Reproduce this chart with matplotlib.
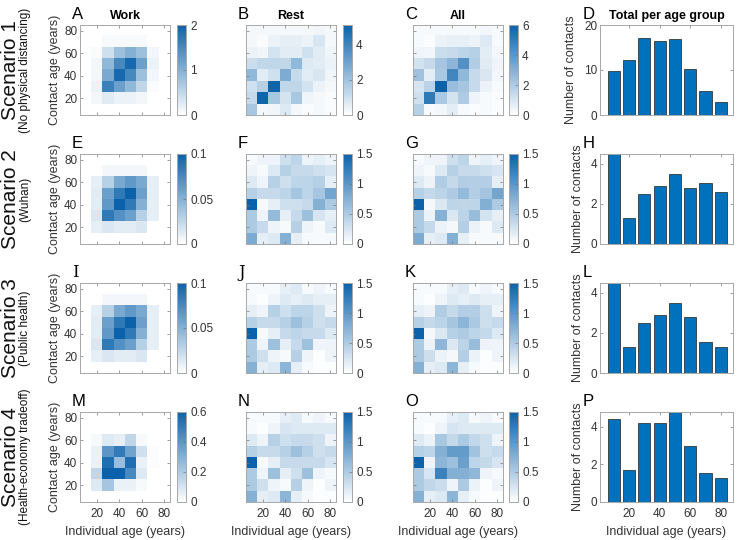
import numpy as np
import matplotlib
matplotlib.use('Agg')
import matplotlib.pyplot as plt
from matplotlib.colors import LinearSegmentedColormap

plt.rcParams['font.family'] = ['Liberation Sans', 'DejaVu Sans']

# age groups (centres of 10-year bins)
ages = [10, 20, 30, 40, 50, 60, 70, 80]

# contact matrices, rows listed from contact age 80 (top) down to 10 (bottom)
work_s1 = [[0, 0, 0, 0, 0, 0, 0, 0],
           [0, 0, 0.07, 0.07, 0.07, 0.07, 0, 0],
           [0, 0.05, 0.4, 0.8, 1.0, 0.8, 0.1, 0],
           [0, 0.1, 0.9, 1.5, 1.9, 1.2, 0.15, 0],
           [0, 0.1, 1.1, 1.9, 1.5, 0.8, 0.1, 0],
           [0, 0.15, 1.6, 1.2, 0.9, 0.5, 0.05, 0],
           [0, 0.1, 0.25, 0.15, 0.15, 0.1, 0, 0],
           [0, 0, 0, 0, 0, 0, 0, 0]]
rest_s1 = [[0.2, 0.2, 0.2, 0.2, 0.2, 0.2, 0.3, 0.2],
           [0.2, 0.1, 0.4, 0.5, 0.5, 0.4, 0.8, 0.2],
           [0.4, 0.3, 0.9, 0.6, 0.6, 1.0, 0.6, 0.3],
           [1.1, 1.3, 1.3, 1.3, 2.3, 0.7, 0.6, 0.4],
           [2.3, 0.6, 1.0, 2.7, 1.2, 0.6, 0.8, 0.3],
           [1.0, 1.5, 5.0, 1.3, 1.3, 0.9, 0.4, 0.2],
           [1.2, 5.0, 1.8, 0.9, 1.8, 0.3, 0.2, 0.1],
           [1.8, 0.2, 0.3, 0.7, 0.2, 0.1, 0.2, 0.1]]
all_s1 = [[0.2, 0.2, 0.2, 0.2, 0.2, 0.2, 0.3, 0.2],
          [0.2, 0.1, 0.45, 0.55, 0.55, 0.45, 0.8, 0.2],
          [0.4, 0.35, 1.3, 1.4, 1.6, 1.8, 0.7, 0.3],
          [1.1, 1.4, 2.2, 2.8, 4.2, 1.9, 0.75, 0.4],
          [2.3, 0.7, 2.1, 4.6, 2.7, 1.4, 0.9, 0.3],
          [1.0, 1.65, 6.0, 2.5, 2.2, 1.4, 0.45, 0.2],
          [1.2, 5.1, 2.05, 1.05, 1.95, 0.4, 0.2, 0.1],
          [1.8, 0.2, 0.3, 0.7, 0.2, 0.1, 0.2, 0.1]]

work_s2 = [[0, 0, 0, 0, 0, 0, 0, 0],
           [0, 0, 0.005, 0.005, 0.005, 0.005, 0, 0],
           [0, 0.01, 0.03, 0.055, 0.065, 0.055, 0.01, 0],
           [0, 0.012, 0.06, 0.085, 0.1, 0.06, 0.01, 0],
           [0, 0.012, 0.065, 0.1, 0.085, 0.05, 0.01, 0],
           [0, 0.015, 0.085, 0.07, 0.06, 0.03, 0.01, 0],
           [0, 0.01, 0.015, 0.012, 0.012, 0.015, 0, 0],
           [0, 0, 0, 0, 0, 0, 0, 0]]
rest_s2 = [[0.05, 0.1, 0.1, 0.3, 0.4, 0.1, 0.15, 0.1],
           [0.1, 0.05, 0.2, 0.45, 0.35, 0.35, 0.3, 0.25],
           [0.2, 0.1, 0.45, 0.3, 0.4, 0.4, 0.45, 0.15],
           [0.45, 0.35, 0.35, 0.4, 0.55, 0.4, 0.55, 0.85],
           [1.5, 0.05, 0.15, 0.3, 0.3, 0.35, 0.75, 0.5],
           [0.5, 0.1, 0.65, 0.15, 0.35, 0.6, 0.25, 0.15],
           [0.5, 0.35, 0.1, 0.05, 0.45, 0.1, 0.05, 0.2],
           [0.8, 0.15, 0.2, 0.75, 0.15, 0.05, 0.05, 0.05]]
all_s2 = [[0.05, 0.1, 0.1, 0.3, 0.4, 0.1, 0.15, 0.1],
          [0.1, 0.05, 0.2, 0.45, 0.35, 0.35, 0.3, 0.25],
          [0.2, 0.11, 0.48, 0.36, 0.47, 0.46, 0.46, 0.15],
          [0.45, 0.36, 0.41, 0.49, 0.65, 0.46, 0.56, 0.85],
          [1.5, 0.06, 0.22, 0.4, 0.39, 0.4, 0.76, 0.5],
          [0.5, 0.12, 0.74, 0.22, 0.41, 0.63, 0.26, 0.15],
          [0.5, 0.36, 0.12, 0.06, 0.46, 0.12, 0.05, 0.2],
          [0.8, 0.15, 0.2, 0.75, 0.15, 0.05, 0.05, 0.05]]

work_s3 = [[0, 0, 0, 0, 0, 0, 0, 0],
           [0, 0, 0.005, 0.005, 0.005, 0.005, 0, 0],
           [0, 0.01, 0.03, 0.055, 0.065, 0.055, 0.01, 0],
           [0, 0.012, 0.06, 0.085, 0.1, 0.06, 0.01, 0],
           [0, 0.012, 0.065, 0.1, 0.085, 0.05, 0.01, 0],
           [0, 0.015, 0.085, 0.07, 0.06, 0.03, 0.01, 0],
           [0, 0.01, 0.015, 0.012, 0.012, 0.015, 0, 0],
           [0, 0, 0, 0, 0, 0, 0, 0]]
rest_s3 = [[0.05, 0.05, 0.05, 0.15, 0.2, 0.05, 0.1, 0.05],
           [0.05, 0.02, 0.1, 0.2, 0.15, 0.2, 0.15, 0.15],
           [0.15, 0.1, 0.45, 0.3, 0.4, 0.4, 0.3, 0.1],
           [0.45, 0.35, 0.35, 0.45, 0.6, 0.45, 0.3, 0.35],
           [1.5, 0.05, 0.15, 0.35, 0.4, 0.35, 0.35, 0.2],
           [0.5, 0.1, 0.6, 0.15, 0.35, 0.6, 0.1, 0.1],
           [0.5, 0.3, 0.1, 0.05, 0.45, 0.1, 0.02, 0.1],
           [0.75, 0.15, 0.2, 0.7, 0.15, 0.05, 0.02, 0.02]]
all_s3 = [[0.05, 0.05, 0.05, 0.15, 0.2, 0.05, 0.1, 0.05],
          [0.05, 0.02, 0.1, 0.2, 0.15, 0.2, 0.15, 0.15],
          [0.15, 0.11, 0.48, 0.36, 0.47, 0.46, 0.31, 0.1],
          [0.45, 0.36, 0.41, 0.54, 0.7, 0.51, 0.31, 0.35],
          [1.5, 0.06, 0.22, 0.45, 0.49, 0.4, 0.36, 0.2],
          [0.5, 0.12, 0.69, 0.22, 0.41, 0.63, 0.11, 0.1],
          [0.5, 0.31, 0.12, 0.06, 0.46, 0.12, 0.02, 0.1],
          [0.75, 0.15, 0.2, 0.7, 0.15, 0.05, 0.02, 0.02]]

work_s4 = [[0, 0, 0, 0, 0, 0, 0, 0],
           [0, 0, 0, 0, 0, 0, 0, 0],
           [0, 0.02, 0.08, 0.06, 0.15, 0.02, 0, 0],
           [0, 0.05, 0.4, 0.5, 0.35, 0.12, 0.01, 0],
           [0, 0.05, 0.55, 0.25, 0.55, 0.05, 0.01, 0],
           [0, 0.15, 0.6, 0.6, 0.45, 0.08, 0, 0],
           [0, 0.08, 0.22, 0.05, 0.05, 0.02, 0, 0],
           [0, 0, 0, 0, 0, 0, 0, 0]]
rest_s4 = [[0.05, 0.05, 0.05, 0.15, 0.2, 0.05, 0.1, 0.05],
           [0.05, 0.02, 0.1, 0.25, 0.2, 0.2, 0.2, 0.2],
           [0.2, 0.1, 0.45, 0.3, 0.35, 0.35, 0.3, 0.1],
           [0.45, 0.35, 0.35, 0.45, 0.6, 0.45, 0.3, 0.35],
           [1.5, 0.05, 0.15, 0.35, 0.35, 0.35, 0.35, 0.25],
           [0.5, 0.1, 0.6, 0.15, 0.3, 0.6, 0.1, 0.05],
           [0.5, 0.3, 0.1, 0.05, 0.45, 0.1, 0.02, 0.1],
           [0.75, 0.15, 0.2, 0.7, 0.15, 0.05, 0.02, 0.02]]
all_s4 = [[0.05, 0.05, 0.05, 0.15, 0.2, 0.05, 0.1, 0.05],
          [0.05, 0.02, 0.1, 0.25, 0.2, 0.2, 0.2, 0.2],
          [0.2, 0.12, 0.53, 0.36, 0.5, 0.37, 0.3, 0.1],
          [0.45, 0.4, 0.75, 0.95, 0.95, 0.57, 0.31, 0.35],
          [1.5, 0.1, 0.7, 0.6, 0.9, 0.4, 0.36, 0.25],
          [0.5, 0.25, 1.2, 0.75, 0.75, 0.68, 0.1, 0.05],
          [0.5, 0.38, 0.32, 0.1, 0.5, 0.12, 0.02, 0.1],
          [0.75, 0.15, 0.2, 0.7, 0.15, 0.05, 0.02, 0.02]]

# total contacts per age group
total_s1 = [9.85, 12.3, 17.2, 16.5, 16.8, 10.3, 5.4, 2.8]
total_s2 = [6.0, 1.3, 2.48, 2.88, 3.5, 2.77, 3.04, 2.58]
total_s3 = [6.0, 1.31, 2.48, 2.88, 3.5, 2.78, 1.55, 1.3]
total_s4 = [4.43, 1.71, 4.22, 4.17, 4.85, 2.98, 1.52, 1.28]

scenarios = ['Scenario 1', 'Scenario 2', 'Scenario 3', 'Scenario 4']
subtitles = ['(No physical distancing)', '(Wuhan)', '(Public health)',
             '(Health-economy tradeoff)']
col_titles = ['Work', 'Rest', 'All', 'Total per age group']
letters = ['ABCD', 'EFGH', 'IJKL', 'MNOP']

matrices = [[work_s1, rest_s1, all_s1], [work_s2, rest_s2, all_s2],
            [work_s3, rest_s3, all_s3], [work_s4, rest_s4, all_s4]]
totals = [total_s1, total_s2, total_s3, total_s4]
clims = [[2, 5.1, 6], [0.1, 1.5, 1.5], [0.1, 1.5, 1.5], [0.6, 1.5, 1.5]]
cticks = [[[0, 1, 2], [0, 2, 4], [0, 2, 4, 6]],
          [[0, 0.05, 0.1], [0, 0.5, 1, 1.5], [0, 0.5, 1, 1.5]],
          [[0, 0.05, 0.1], [0, 0.5, 1, 1.5], [0, 0.5, 1, 1.5]],
          [[0, 0.2, 0.4, 0.6], [0, 0.5, 1, 1.5], [0, 0.5, 1, 1.5]]]
bar_ylims = [20, 4.48, 4.48, 4.78]
bar_yticks = [[0, 10, 20], [0, 2, 4], [0, 2, 4], [0, 2, 4]]

W, H = 740, 540
fig = plt.figure(figsize=(W / 100, H / 100), dpi=100)


def px_axes(left, top, w, h):
    return fig.add_axes([left / W, 1 - (top + h) / H, w / W, h / H])


cmap = LinearSegmentedColormap.from_list('wblue', ['#ffffff', '#0b62ab'])
spine_col = '#a8a8a8'
text_col = '#333333'


def style(ax):
    for s in ax.spines.values():
        s.set_color(spine_col)
        s.set_linewidth(0.7)
    ax.tick_params(direction='in', length=2.5, width=0.5, color='#777777',
                   labelsize=8.5, labelcolor=text_col, top=True, right=True, pad=2)
    ax.tick_params(axis='x', pad=4.5)


row_top = [25, 154, 283, 412]
hm_left = [80, 246, 413]
cb_left = [177, 343, 509]
bar_left, bar_w = 600, 133
size = 90

for r in range(4):
    top = row_top[r]
    for c in range(3):
        ax = px_axes(hm_left[c], top, size, size)
        im = ax.imshow(np.array(matrices[r][c]), cmap=cmap, vmin=0, vmax=clims[r][c],
                       extent=(5, 85, 5, 85), origin='upper',
                       interpolation='nearest', aspect='auto')
        style(ax)
        ax.set_xticks([20, 40, 60, 80])
        ax.set_yticks([20, 40, 60, 80])
        if c != 0:
            ax.set_yticklabels([])
        else:
            ax.set_ylabel('Contact age (years)', fontsize=9, color=text_col, labelpad=2)
        if r != 3:
            ax.set_xticklabels([])
        else:
            ax.set_xlabel('Individual age (years)', fontsize=9, color=text_col, labelpad=4)
        if r == 0:
            ax.set_title(col_titles[c], fontsize=9, fontweight='bold', pad=4)
        fam = ['DejaVu Serif'] if letters[r][c] in 'IJ' else None
        fig.text((hm_left[c] - 8) / W, 1 - (top - 6) / H, letters[r][c],
                 fontsize=12, ha='left', va='baseline', family=fam)

        cax = px_axes(cb_left[c], top, 9, size)
        cb = fig.colorbar(im, cax=cax, ticks=cticks[r][c])
        cb.outline.set_edgecolor(spine_col)
        cb.outline.set_linewidth(0.7)
        cb.ax.set_yticklabels(['%g' % t for t in cticks[r][c]])
        cax.tick_params(direction='in', length=2, width=0.5, color='#777777',
                        labelsize=8.5, labelcolor=text_col, pad=3)

    # bar panel
    ax = px_axes(bar_left, top, bar_w, size)
    ax.bar(ages, totals[r], width=8, color='#0072BD', edgecolor='#1f1f1f', linewidth=0.5)
    style(ax)
    ax.set_xlim(1, 88)
    ax.set_ylim(0, bar_ylims[r])
    ax.set_yticks(bar_yticks[r])
    ax.set_xticks([20, 40, 60, 80])
    ax.set_ylabel('Number of contacts', fontsize=9, color=text_col, labelpad=5)
    if r != 3:
        ax.set_xticklabels([])
    else:
        ax.set_xlabel('Individual age (years)', fontsize=9, color=text_col, labelpad=4)
    if r == 0:
        ax.set_title(col_titles[3], fontsize=9, fontweight='bold', pad=4)
    fig.text(583 / W, 1 - (top - 6) / H, letters[r][3], fontsize=12,
             ha='left', va='baseline')

    # scenario labels on the left
    yc = 1 - (top + size / 2) / H
    fig.text(1 / W, yc, scenarios[r], rotation=90, fontsize=15, ha='left',
             va='center', color='#111111')
    fig.text(25 / W, yc, subtitles[r], rotation=90, fontsize=8.5, ha='center',
             va='center', color='#111111')

fig.savefig('out.png', dpi=100)
